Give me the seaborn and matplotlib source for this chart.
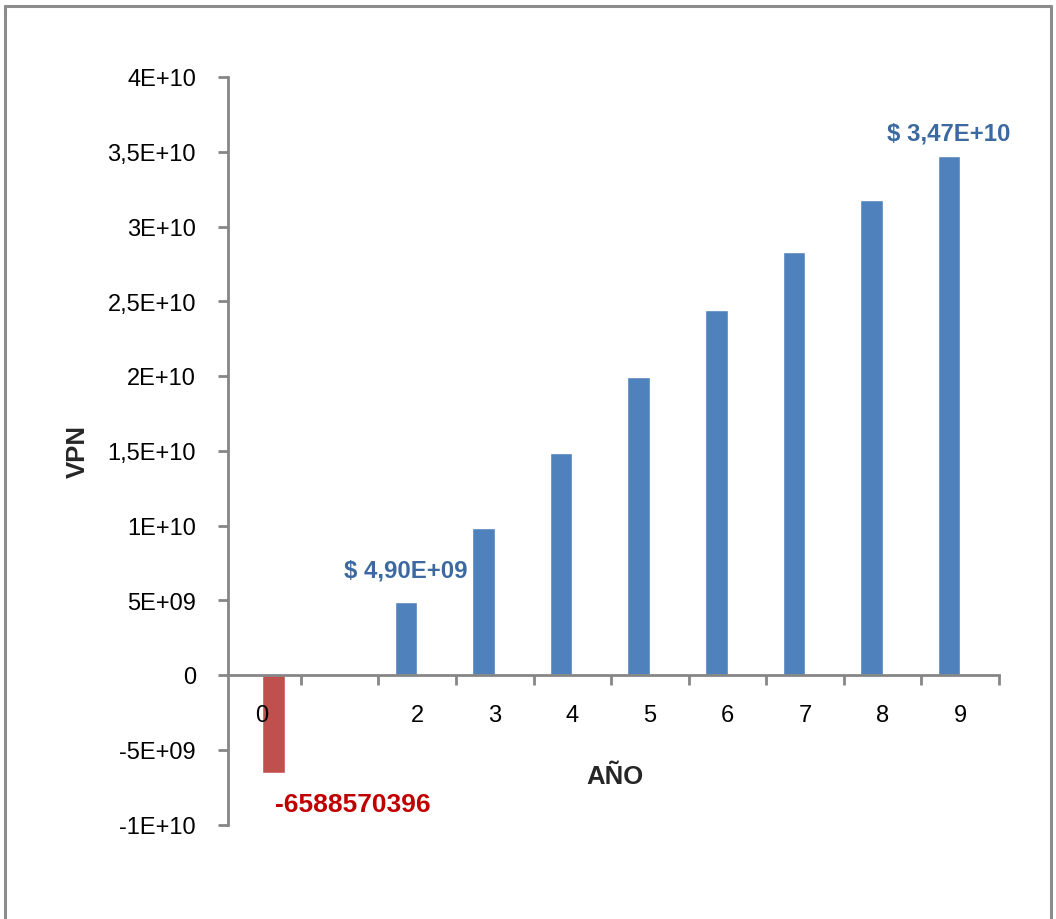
import matplotlib
matplotlib.use("Agg")
import matplotlib.pyplot as plt
from matplotlib.lines import Line2D
from matplotlib.ticker import FixedLocator, NullFormatter
import seaborn as sns
import pandas as pd

# Year categories (slot "1" has no value and no label)
years = ["0", "1", "2", "3", "4", "5", "6", "7", "8", "9"]
year_labels = ["0", "", "2", "3", "4", "5", "6", "7", "8", "9"]

# Net present value per year
neg_years = ["0"]
neg_values = [-6588570396]
pos_years = ["2", "3", "4", "5", "6", "7", "8", "9"]
pos_values = [4.90e9, 9.85e9, 1.487e10, 1.995e10, 2.44e10, 2.83e10, 3.175e10, 3.47e10]

y_ticks = [-1e10, -5e9, 0, 5e9, 1e10, 1.5e10, 2e10, 2.5e10, 3e10, 3.5e10, 4e10]
y_tick_labels = ["-1E+10", "-5E+09", "0", "5E+09", "1E+10", "1,5E+10", "2E+10",
                 "2,5E+10", "3E+10", "3,5E+10", "4E+10"]

df = pd.DataFrame({
    "AÑO": pos_years + neg_years,
    "VPN": pos_values + neg_values,
    "serie": ["pos"] * len(pos_years) + ["neg"] * len(neg_years),
})

sns.set_theme(style="white")
plt.rcParams["font.family"] = ["Liberation Sans", "DejaVu Sans"]

fig = plt.figure(figsize=(10.56, 9.2), dpi=100)
ax = fig.add_axes([228 / 1056, 1 - 825.5 / 920, 771 / 1056, 747.5 / 920])

blue = "#4F81BD"
red = "#C0504D"
group_width = 0.58
sns.barplot(data=df, x="AÑO", y="VPN", hue="serie", order=years,
            hue_order=["pos", "neg"], palette={"pos": blue, "neg": red},
            width=group_width, dodge=True, legend=False, ax=ax, errorbar=None,
            saturation=1)

ax.set_xlim(-0.44, len(years) - 0.5)
ax.set_ylim(-1e10, 4e10)
# axis line and category labels drawn over the bars
ax.set_axisbelow(False)

axis_color = "#868686"
for side in ("top", "right"):
    ax.spines[side].set_visible(False)
for side in ("left", "bottom"):
    ax.spines[side].set_color(axis_color)
    ax.spines[side].set_linewidth(2)
ax.spines["bottom"].set_position(("data", 0))

# Category labels at centres, tick marks at category boundaries
ax.set_xticks(range(len(years)))
ax.set_xticklabels(year_labels, fontsize=17, color="black")
ax.xaxis.set_minor_locator(FixedLocator([i + 0.5 for i in range(len(years))]))
ax.xaxis.set_minor_formatter(NullFormatter())
ax.tick_params(axis="x", which="major", length=0, pad=21)
ax.tick_params(axis="x", which="minor", length=7, width=2, color=axis_color,
               direction="out", bottom=True)

ax.yaxis.set_major_locator(FixedLocator(y_ticks))
ax.set_yticklabels(y_tick_labels, fontsize=17, color="black")
ax.tick_params(axis="y", which="major", length=7, width=2, color=axis_color,
               direction="out", left=True, pad=16)

ax.set_xlabel("AÑO", fontsize=18.5, fontweight="bold")
ax.xaxis.set_label_coords(0.502, 0.081)
ax.set_ylabel("VPN", fontsize=18.5, fontweight="bold", va="center", ha="center")
ax.yaxis.set_label_coords(-0.1946, 0.5)
ax.grid(False)

# Data labels
label_blue = "#3C6AA0"
bar_w = group_width / 2
first_pos = pos_values[0]
last_pos = pos_values[-1]
ax.annotate("$ " + f"{first_pos:.2E}".replace(".", ","),
            xy=(years.index(pos_years[0]) - bar_w / 2, first_pos),
            xytext=(0, 23), textcoords="offset points",
            ha="center", va="center", fontsize=17.3, fontweight="bold",
            color=label_blue)
ax.annotate("$ " + f"{last_pos:.2E}".replace(".", ","),
            xy=(years.index(pos_years[-1]) - bar_w / 2, last_pos),
            xytext=(0, 17), textcoords="offset points",
            ha="center", va="center", fontsize=17.3, fontweight="bold",
            color=label_blue)
ax.annotate(f"{neg_values[0]:.0f}",
            xy=(years.index(neg_years[0]) + bar_w / 2, neg_values[0]),
            xytext=(57, -22), textcoords="offset points",
            ha="center", va="center", fontsize=19, fontweight="bold",
            color="#C00000")

# Chart area frame
frame_color = "#8C8C8C"
fl, fr, ft = 5 / 1056, 1051 / 1056, 1 - 7 / 920
for xs, ys in (([fl, fl], [0, ft]), ([fr, fr], [0, ft]), ([fl, fr], [ft, ft])):
    fig.add_artist(Line2D(xs, ys, transform=fig.transFigure, color=frame_color,
                          linewidth=2.2))

fig.savefig("out.png", dpi=100, facecolor="white")
